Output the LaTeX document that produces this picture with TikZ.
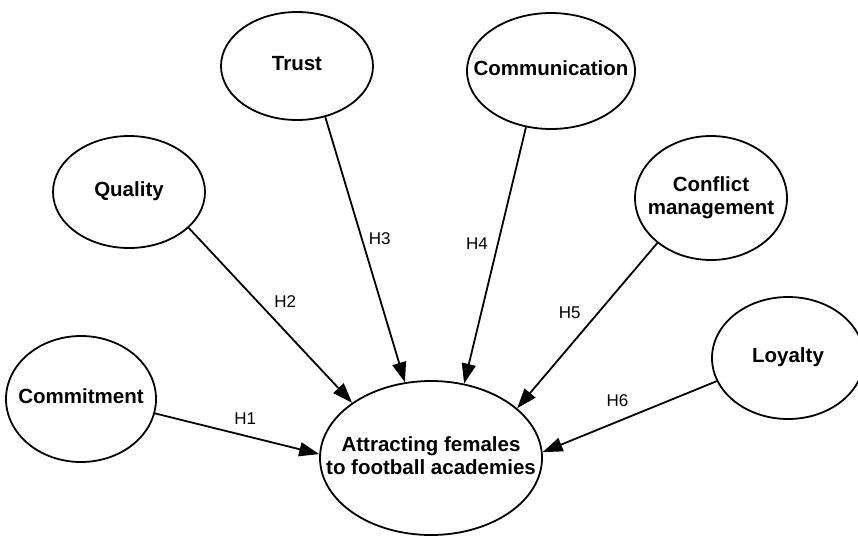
\documentclass[tikz,border=0pt]{standalone}
\usepackage{fontspec}
\setmainfont{Liberation Sans}
\usetikzlibrary{shapes.geometric,arrows.meta,positioning}
\newcommand{\ovaltext}[1]{\makebox[0pt]{\begin{tabular}{@{}c@{}}#1\end{tabular}}}

\begin{document}
\begin{tikzpicture}[x=1pt,y=-1pt,
        factor/.style={ellipse,draw,line width=1.8pt,inner sep=0pt,font=\fontsize{20.5}{23}\selectfont\bfseries},
        hyp/.style={inner sep=0pt,font=\fontsize{17}{20}\selectfont},
        link/.style={line width=1.8pt,-{Triangle[length=20pt,width=14pt]}}]
        \useasboundingbox (0,0) rectangle (858,536);
        \node[factor,minimum width=222pt,minimum height=154pt] (target) at (431,458) {\ovaltext{Attracting females\\to football academies}};
        \node[factor,minimum width=150pt,minimum height=126pt] (commitment) at (81,399) {\ovaltext{Commitment}};
        \node[factor,minimum width=152pt,minimum height=112pt] (quality) at (129,192) {\ovaltext{Quality}};
        \node[factor,minimum width=152pt,minimum height=108pt] (trust) at (297,66) {\ovaltext{Trust}};
        \node[factor,minimum width=168pt,minimum height=116pt] (communication) at (551,71) {\ovaltext{Communication}};
        \node[factor,minimum width=152pt,minimum height=124pt] (conflict) at (711,198) {\ovaltext{Conflict\\management}};
        \node[factor,minimum width=152pt,minimum height=122pt] (loyalty) at (788,358) {\ovaltext{Loyalty}};
        \draw[link] (commitment.-11) -- (target.178) node[hyp,pos=.55,above=10pt] {H1};
        \draw[link] (quality.-31) -- (target.145) node[hyp,pos=.5,above right=7pt and 3pt] {H2};
        \draw[link] (trust.-61) -- (target.109) node[hyp,pos=.46,right=6pt] {H3};
        \draw[link] (communication.-114) -- (target.66) node[hyp,pos=.455,left=9pt] {H4};
        \draw[link] (conflict.-140) -- (target.30) node[hyp,pos=.42,left=17pt] {H5};
        \draw[link] (loyalty.-162) -- (target.3) node[hyp,pos=.57,above=14pt] {H6};
    \end{tikzpicture}
\end{document}
